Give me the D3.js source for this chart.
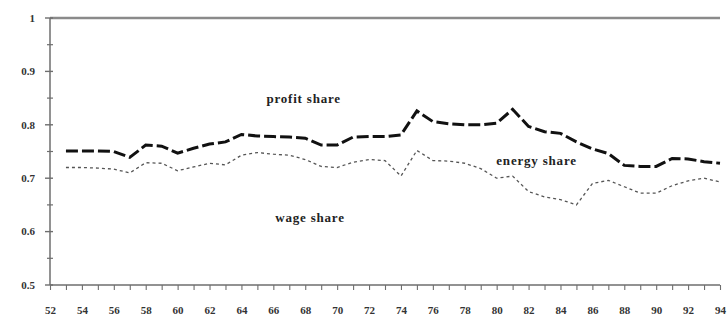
<!DOCTYPE html>
<html>
<head>
<meta charset="utf-8">
<script src="https://cdn.jsdelivr.net/npm/d3@7"></script>
<style>
  html, body { margin: 0; padding: 0; background: #fff; }
  svg { display: block; }
  text { font-family: "Liberation Serif", "Times New Roman", serif; }
</style>
</head>
<body>
<svg id="chart" width="728" height="329"></svg>
<script>
// Factor shares, 1953-1994
const years = d3.range(53, 95);

// wage + energy share (upper boundary, heavy dashed)
const wageEnergyShare = [
  0.751, 0.751, 0.751, 0.750, 0.739, 0.762, 0.760, 0.747, 0.756, 0.764,
  0.768, 0.782, 0.779, 0.778, 0.777, 0.775, 0.762, 0.762, 0.777, 0.778,
  0.778, 0.781, 0.826, 0.806, 0.802, 0.800, 0.800, 0.803, 0.829, 0.797,
  0.787, 0.784, 0.768, 0.755, 0.746, 0.724, 0.722, 0.722, 0.737, 0.736,
  0.731, 0.728
];

// wage share (lower boundary, light dotted)
const wageShare = [
  0.720, 0.720, 0.719, 0.717, 0.710, 0.729, 0.728, 0.714, 0.721, 0.728,
  0.725, 0.743, 0.748, 0.745, 0.743, 0.735, 0.722, 0.720, 0.730, 0.735,
  0.733, 0.704, 0.752, 0.733, 0.732, 0.728, 0.718, 0.700, 0.704, 0.675,
  0.665, 0.660, 0.650, 0.690, 0.696, 0.684, 0.672, 0.672, 0.686, 0.695,
  0.700, 0.693
];

const yTickValues = [0.5, 0.6, 0.7, 0.8, 0.9, 1];
const yTickLabels = ["0.5", "0.6", "0.7", "0.8", "0.9", "1"];
const xTickYears = d3.range(52, 95, 2);

const areaLabels = [
  { text: "profit share", year: 67.9, value: 0.850 },
  { text: "energy share", year: 82.5, value: 0.734 },
  { text: "wage share",   year: 68.3, value: 0.627 }
];

const svg = d3.select("#chart");
const plotLeft = 50, plotRight = 720, plotTop = 18, plotBottom = 285;

const x = d3.scaleLinear().domain([52, 94]).range([plotLeft, plotRight]);
const y = d3.scaleLinear().domain([0.5, 1]).range([plotBottom, plotTop]);

const axisColor = "#6e6e6e";

// top reference line at 1
svg.append("line")
  .attr("x1", x(52)).attr("x2", x(94))
  .attr("y1", y(1)).attr("y2", y(1))
  .attr("stroke", "#8a8a8a").attr("stroke-width", 2.5);

// y axis
const yAxisG = svg.append("g").attr("transform", `translate(${plotLeft},0)`);
yAxisG.append("line")
  .attr("x1", 0).attr("x2", 0).attr("y1", y(1)).attr("y2", y(0.5))
  .attr("stroke", axisColor).attr("stroke-width", 1.5);
const minorY = d3.range(0.55, 1, 0.1);
yAxisG.selectAll("line.minor").data(minorY).join("line")
  .attr("class", "minor")
  .attr("x1", -3).attr("x2", 3)
  .attr("y1", d => y(d)).attr("y2", d => y(d))
  .attr("stroke", axisColor).attr("stroke-width", 1.2);
yAxisG.selectAll("line.major").data(yTickValues).join("line")
  .attr("class", "major")
  .attr("x1", -5).attr("x2", 3)
  .attr("y1", d => y(d)).attr("y2", d => y(d))
  .attr("stroke", axisColor).attr("stroke-width", 1.4);
yAxisG.selectAll("text").data(yTickValues).join("text")
  .attr("x", -15).attr("y", d => y(d))
  .attr("dy", "0.35em")
  .attr("text-anchor", "end")
  .attr("font-size", 11).attr("font-weight", "bold")
  .attr("fill", "#333")
  .text((d, i) => yTickLabels[i]);

// x axis
const xAxis = d3.axisBottom(x)
  .tickValues(d3.range(52, 95))
  .tickSize(5)
  .tickFormat(d => xTickYears.includes(d) ? String(d) : "");
const xAxisG = svg.append("g")
  .attr("transform", `translate(0,${plotBottom})`)
  .call(xAxis);
xAxisG.select(".domain").attr("stroke", axisColor).attr("stroke-width", 1.5)
  .attr("d", `M${plotLeft},0H${plotRight}`);
xAxisG.selectAll(".tick line").attr("stroke", axisColor).attr("stroke-width", 1.1);
xAxisG.selectAll(".tick text")
  .attr("y", 21)
  .attr("font-family", "Liberation Serif, serif")
  .attr("font-size", 11).attr("font-weight", "bold")
  .attr("fill", "#333");

// series
const line = d3.line()
  .x((d, i) => x(years[i]))
  .y(d => y(d));

svg.append("path")
  .datum(wageShare)
  .attr("d", line)
  .attr("fill", "none")
  .attr("stroke", "#555")
  .attr("stroke-width", 1.3)
  .attr("stroke-dasharray", "3,3");

svg.append("path")
  .datum(wageEnergyShare)
  .attr("d", line)
  .attr("fill", "none")
  .attr("stroke", "#111")
  .attr("stroke-width", 3)
  .attr("stroke-dasharray", "12,4");

// area labels
svg.selectAll("text.area").data(areaLabels).join("text")
  .attr("class", "area")
  .attr("x", d => x(d.year)).attr("y", d => y(d.value))
  .attr("dy", "0.35em")
  .attr("text-anchor", "middle")
  .attr("font-size", 13).attr("font-weight", "bold")
  .attr("letter-spacing", 0.8)
  .attr("fill", "#222")
  .text(d => d.text);
</script>
</body>
</html>
